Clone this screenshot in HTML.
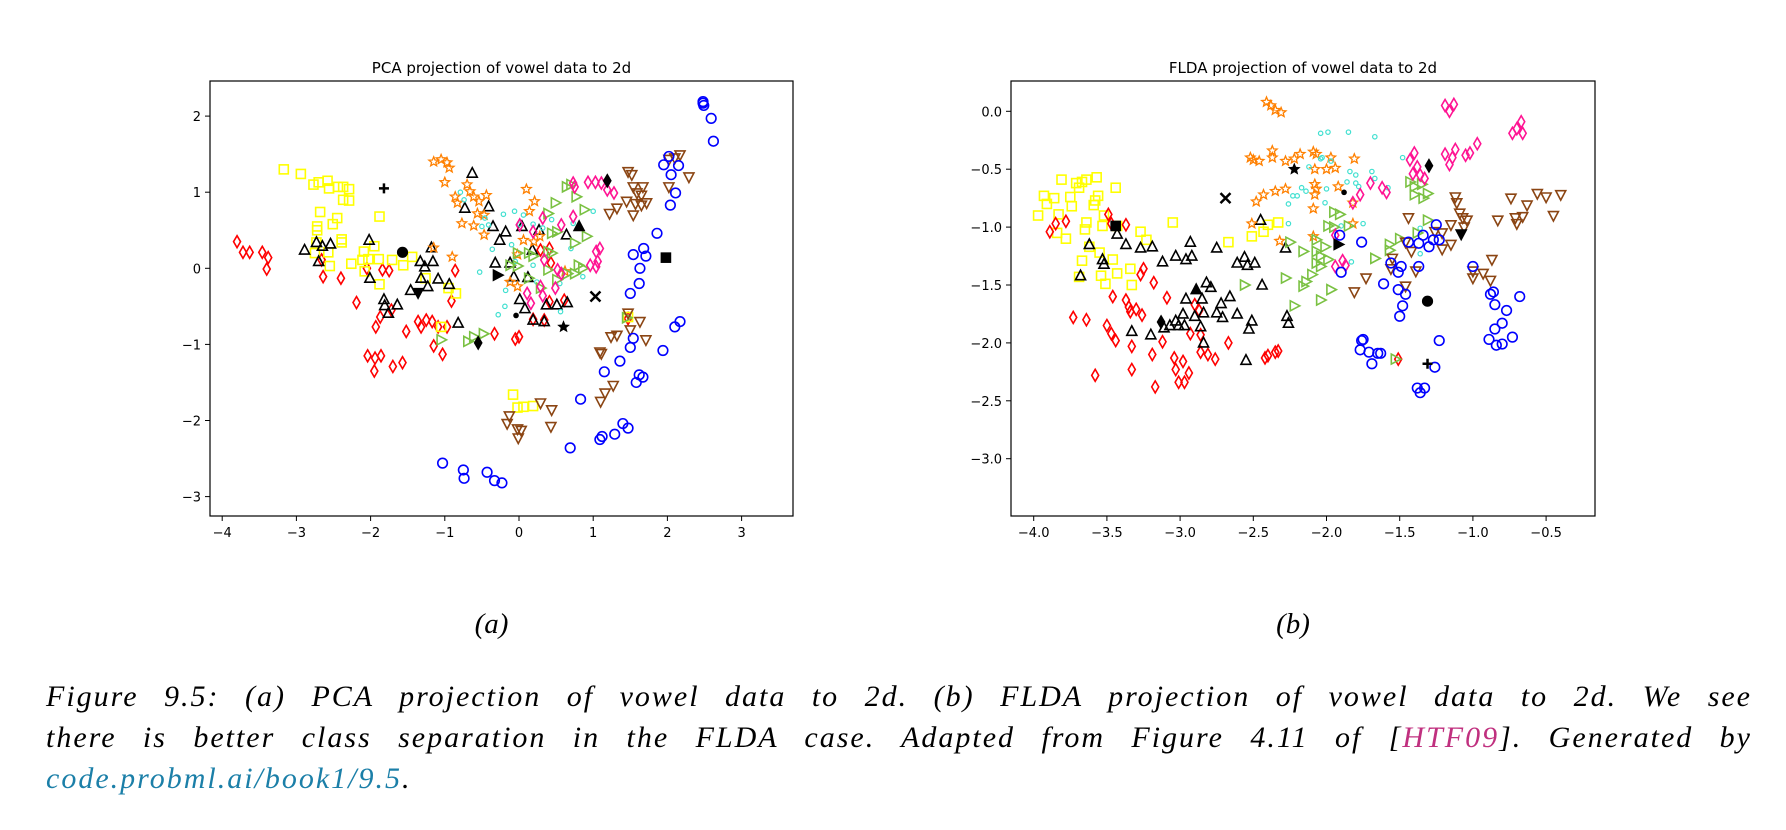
<!DOCTYPE html>
<html><head><meta charset="utf-8"><style>
body{margin:0;background:#fff;width:1786px;height:830px;overflow:hidden;position:relative}
svg{position:absolute;left:0;top:0}
.cap{position:absolute;left:46px;width:1706px;font-family:"Liberation Serif",serif;font-style:italic;font-size:30px;letter-spacing:2px;color:#000;white-space:nowrap}
.j{text-align:justify;text-align-last:justify;white-space:normal}
</style></head><body>
<svg id="fig" width="1786" height="830" xmlns="http://www.w3.org/2000/svg"></svg>
<div class="cap j" style="top:680px">Figure 9.5: (a) PCA projection of vowel data to 2d. (b) FLDA projection of vowel data to 2d. We see</div>
<div class="cap j" style="top:721px">there is better class separation in the FLDA case. Adapted from Figure 4.11 of [<span style="color:#c0307f">HTF09</span>]. Generated by</div>
<div class="cap" style="top:762px"><span style="color:#1b7fa8">code.probml.ai/book1/9.5</span>.</div>
<script>
// ---------- PCA panel data ----------
const pcaRed=[[-3.80,0.35],[-3.72,0.21],[-3.63,0.21],[-3.46,0.21],[-3.38,0.14],[-3.40,-0.01],[-2.66,0.11],[-2.64,-0.11],[-2.40,-0.13],[-2.19,-0.45],[-2.05,0],[-1.84,-0.02],[-1.75,-0.03],[-1.72,-0.55],[-1.87,-0.64],[-1.93,-0.77],[-2.04,-1.15],[-1.94,-1.18],[-1.86,-1.15],[-1.95,-1.35],[-1.70,-1.29],[-1.57,-1.24],[-1.52,-0.83],[-1.36,-0.70],[-1.32,-0.77],[-1.25,-0.68],[-1.17,-0.70],[-1.09,-0.77],[-0.97,-0.77],[-1.15,-1.02],[-1.03,-1.13],[-0.91,-0.43],[-0.86,-0.03],[-0.33,-0.86],[-0.05,-0.93],[0.0,-0.90],[0.19,-0.67],[0.34,-0.68],[0.41,-0.44],[0.61,-0.42],[0.41,0.26],[0.29,0.24],[0.43,0.07],[1.47,-0.66]];
const pcaYellow=[[-3.17,1.30],[-2.94,1.24],[-2.77,1.10],[-2.70,1.13],[-2.58,1.15],[-2.56,1.05],[-2.44,1.07],[-2.37,1.07],[-2.29,1.04],[-2.37,0.90],[-2.29,0.89],[-2.68,0.74],[-2.45,0.66],[-2.51,0.58],[-2.72,0.55],[-2.72,0.50],[-2.39,0.38],[-2.39,0.34],[-2.73,0.34],[-2.75,0.20],[-2.57,0.21],[-2.55,0.03],[-2.26,0.06],[-2.09,0.22],[-1.95,0.29],[-2.11,0.11],[-2.03,0.12],[-1.89,0.12],[-1.71,0.11],[-1.56,0.04],[-1.44,0.15],[-1.88,-0.21],[-2.08,-0.04],[-1.88,0.68],[-1.26,-0.13],[-0.95,-0.26],[-0.85,-0.33],[-1.05,-0.77],[-0.08,-1.66],[-0.02,-1.83],[0.06,-1.82],[0.19,-1.81],[1.47,-0.64]];
const pcaBlackTri=[[-2.89,0.24],[-2.73,0.34],[-2.65,0.29],[-2.54,0.32],[-2.70,0.09],[-2.02,0.37],[-2.01,-0.13],[-1.82,-0.41],[-1.81,-0.49],[-1.64,-0.48],[-1.76,-0.59],[-1.46,-0.29],[-1.33,0.09],[-1.27,0.02],[-1.16,0.09],[-1.32,-0.13],[-1.09,-0.14],[-1.23,-0.24],[-0.94,-0.21],[-1.18,0.27],[-0.82,-0.72],[-0.73,0.79],[-0.63,1.25],[-0.41,0.81],[-0.35,0.55],[-0.26,0.37],[-0.18,0.48],[-0.32,0.07],[-0.12,0.07],[-0.07,-0.11],[0.01,-0.41],[0.08,-0.53],[0.04,0.55],[0.18,0.24],[0.27,0.50],[0.64,0.44],[0.19,-0.68],[0.34,-0.70],[0.37,-0.48],[0.51,-0.48],[0.65,-0.45],[0.12,-0.12]];
const pcaOrange=[[-1.15,1.40],[-1.05,1.43],[-0.97,1.39],[-0.94,1.32],[-1.00,1.13],[-0.70,1.10],[-0.66,1.01],[-0.86,0.94],[-0.83,0.86],[-0.61,0.94],[-0.54,0.88],[-0.44,0.96],[-0.56,0.72],[-0.47,0.70],[-0.77,0.59],[-0.61,0.56],[-0.47,0.44],[0.10,1.04],[0.21,0.88],[0.14,0.75],[-0.90,0.15],[-1.15,0.27],[-0.12,-0.18],[-0.02,-0.24],[0.06,0.37],[0.20,0.35],[0.28,0.42],[0.62,-0.04],[-0.02,0.18]];
const pcaTeal=[[-0.79,1.00],[-0.74,0.90],[-0.46,0.66],[-0.50,0.55],[-0.41,0.57],[-0.21,0.71],[-0.06,0.75],[0.06,0.70],[0.01,0.58],[0.19,0.58],[0.32,0.53],[0.44,0.64],[0.73,0.59],[1.00,0.75],[-0.36,0.25],[-0.10,0.31],[-0.53,-0.05],[-0.18,-0.29],[-0.19,-0.50],[-0.28,-0.61],[0.19,0.04],[0.55,-0.20],[0.56,-0.57],[0.86,-0.11],[0.70,0.26],[-0.05,0.09],[0.24,-0.18]];
const pcaGreen=[[0.64,1.07],[0.70,1.10],[0.77,0.94],[0.49,0.86],[0.39,0.72],[0.44,0.46],[0.51,0.48],[0.91,0.42],[0.88,0.77],[0.75,0.33],[0.39,0.22],[0.44,0.20],[-0.02,0.20],[0.13,0.20],[0.19,0.16],[-0.12,0.04],[-0.02,0.03],[0.39,-0.02],[0.65,-0.07],[0.80,0.04],[0.86,0.0],[0.13,-0.13],[0.29,-0.26],[0.51,-0.15],[0.75,-0.07],[-1.05,-0.94],[-0.69,-0.96],[-0.61,-0.90],[-0.48,-0.86],[1.45,-0.65]];
const pcaPink=[[0.73,1.12],[0.75,1.07],[0.93,1.13],[1.03,1.13],[1.11,1.12],[1.19,1.03],[1.28,0.99],[0.73,0.68],[0.57,0.57],[0.32,0.66],[0.19,0.48],[0.01,0.57],[1.04,0.22],[1.09,0.26],[1.06,0.09],[0.96,0.04],[1.04,0.02],[0.52,-0.02],[0.57,-0.07],[0.49,-0.26],[0.29,-0.24],[0.11,-0.33],[0.16,-0.46],[0.32,-0.36],[0.34,0.11]];
const pcaBrown=[[1.47,1.27],[1.52,1.23],[2.02,1.43],[2.10,1.45],[2.17,1.49],[2.02,1.07],[2.29,1.20],[1.54,1.07],[1.67,1.07],[1.59,0.99],[1.65,0.96],[1.45,0.88],[1.32,0.79],[1.22,0.72],[1.54,0.70],[1.57,0.85],[1.65,0.83],[1.72,0.86],[1.47,-0.59],[1.63,-0.70],[1.50,-0.81],[1.24,-0.90],[1.32,-0.88],[1.71,-0.94],[1.09,-1.10],[1.11,-1.12],[1.27,-1.54],[1.16,-1.64],[1.10,-1.75],[0.29,-1.77],[0.44,-1.86],[0.43,-2.08],[-0.13,-1.94],[-0.16,-2.04],[-0.02,-2.11],[0.03,-2.13],[-0.01,-2.23]];
const pcaBlue=[[2.48,2.19],[2.48,2.17],[2.49,2.14],[2.59,1.97],[2.62,1.67],[1.95,1.36],[2.02,1.47],[2.15,1.35],[2.05,1.23],[2.11,0.99],[2.04,0.83],[1.86,0.46],[1.68,0.26],[1.54,0.18],[1.71,0.16],[1.63,0.0],[1.62,-0.20],[1.50,-0.33],[2.17,-0.70],[2.10,-0.77],[1.54,-0.92],[1.50,-1.04],[1.94,-1.08],[1.36,-1.22],[1.15,-1.36],[1.62,-1.40],[1.67,-1.43],[1.58,-1.50],[0.83,-1.72],[0.69,-2.36],[1.40,-2.04],[1.47,-2.10],[1.29,-2.18],[1.12,-2.21],[1.09,-2.25],[-1.03,-2.56],[-0.75,-2.65],[-0.74,-2.76],[-0.43,-2.68],[-0.33,-2.79],[-0.23,-2.82]];
const pcaCentX=[-1.82,-1.57,0.81,1.19,1.98,1.03,0.60,-0.04,-0.29,-1.36,-0.55];
const pcaCentY=[1.05,0.21,0.55,1.15,0.14,-0.37,-0.77,-0.62,-0.09,-0.32,-0.98];
const pcaXTicks=[-4,-3,-2,-1,0,1,2,3];
const pcaYTicks=[2,1,0,-1,-2,-3];
// ---------- FLDA panel data ----------
const ldaYellow=[[-3.97,-0.90],[-3.93,-0.73],[-3.91,-0.80],[-3.86,-0.75],[-3.81,-0.59],[-3.83,-0.89],[-3.75,-0.74],[-3.74,-0.82],[-3.71,-0.62],[-3.67,-0.61],[-3.69,-0.66],[-3.64,-0.59],[-3.57,-0.57],[-3.56,-0.73],[-3.58,-0.77],[-3.59,-0.81],[-3.44,-0.66],[-3.64,-0.96],[-3.65,-1.02],[-3.84,-1.05],[-3.78,-1.10],[-3.52,-0.90],[-3.53,-0.99],[-3.62,-1.17],[-3.55,-1.22],[-3.67,-1.29],[-3.46,-1.28],[-3.43,-1.40],[-3.54,-1.42],[-3.51,-1.49],[-3.69,-1.43],[-3.34,-1.36],[-3.33,-1.50],[-3.27,-1.04],[-3.23,-1.11],[-3.05,-0.96],[-2.67,-1.13],[-2.51,-1.08],[-2.43,-1.04],[-2.40,-0.98],[-2.33,-0.96],[-3.43,-0.99]];
const ldaRed=[[-3.89,-1.04],[-3.85,-0.97],[-3.78,-0.95],[-3.49,-0.89],[-3.47,-0.97],[-3.37,-0.98],[-3.27,-1.41],[-3.25,-1.36],[-3.18,-1.48],[-3.09,-1.61],[-3.46,-1.60],[-3.37,-1.63],[-3.35,-1.69],[-3.34,-1.73],[-3.30,-1.71],[-3.26,-1.76],[-3.73,-1.78],[-3.64,-1.80],[-3.50,-1.85],[-3.47,-1.92],[-3.44,-1.98],[-3.33,-2.03],[-3.12,-1.99],[-3.19,-2.10],[-3.33,-2.23],[-3.58,-2.28],[-3.17,-2.38],[-3.04,-2.13],[-3.03,-2.23],[-2.98,-2.16],[-3.01,-2.34],[-2.97,-2.34],[-2.94,-2.26],[-2.93,-1.92],[-2.86,-1.93],[-2.86,-2.08],[-2.81,-2.10],[-2.76,-2.14],[-2.67,-2.00],[-2.90,-1.67],[-2.87,-1.72],[-2.42,-2.13],[-2.40,-2.11],[-2.35,-2.08],[-2.33,-2.07],[-1.51,-2.14]];
const ldaBlackTri=[[-3.62,-1.15],[-3.53,-1.28],[-3.52,-1.32],[-3.43,-1.06],[-3.68,-1.42],[-3.37,-1.15],[-3.27,-1.18],[-3.19,-1.17],[-3.12,-1.30],[-3.03,-1.25],[-2.96,-1.28],[-2.92,-1.25],[-2.93,-1.13],[-2.75,-1.18],[-2.56,-1.26],[-2.61,-1.31],[-2.54,-1.33],[-2.49,-1.31],[-2.45,-0.94],[-2.44,-1.50],[-2.28,-1.18],[-2.82,-1.48],[-2.79,-1.52],[-2.96,-1.62],[-2.85,-1.62],[-2.72,-1.66],[-2.66,-1.60],[-2.84,-1.74],[-2.75,-1.74],[-2.71,-1.78],[-2.61,-1.75],[-2.51,-1.81],[-2.98,-1.75],[-2.90,-1.77],[-3.03,-1.81],[-3.01,-1.85],[-2.97,-1.85],[-3.07,-1.85],[-3.11,-1.87],[-2.86,-1.86],[-3.33,-1.90],[-3.20,-1.93],[-2.84,-2.00],[-2.53,-1.88],[-2.55,-2.15],[-2.27,-1.77],[-2.26,-1.83]];
const ldaOrange=[[-2.41,0.08],[-2.38,0.05],[-2.35,0.01],[-2.31,-0.01],[-2.52,-0.40],[-2.50,-0.42],[-2.46,-0.43],[-2.37,-0.34],[-2.37,-0.40],[-2.28,-0.43],[-2.22,-0.41],[-2.18,-0.37],[-2.09,-0.35],[-2.07,-0.37],[-1.97,-0.40],[-2.08,-0.50],[-2.00,-0.50],[-1.94,-0.49],[-1.81,-0.41],[-2.48,-0.78],[-2.43,-0.72],[-2.35,-0.69],[-2.28,-0.67],[-2.08,-0.63],[-2.07,-0.67],[-2.08,-0.72],[-2.09,-0.84],[-1.92,-0.65],[-1.82,-0.79],[-2.51,-0.97],[-2.32,-1.12],[-1.82,-0.97],[-2.09,-1.08]];
const ldaTeal=[[-2.04,-0.19],[-1.99,-0.18],[-1.85,-0.18],[-1.67,-0.22],[-2.04,-0.41],[-2.03,-0.40],[-1.97,-0.43],[-2.12,-0.48],[-1.84,-0.52],[-1.80,-0.55],[-1.69,-0.52],[-1.67,-0.58],[-1.86,-0.61],[-1.80,-0.62],[-1.78,-0.65],[-1.58,-0.66],[-2.17,-0.66],[-2.14,-0.69],[-2.00,-0.67],[-2.23,-0.73],[-2.20,-0.73],[-2.26,-0.80],[-2.01,-0.79],[-1.90,-0.99],[-1.75,-0.97],[-2.26,-0.97],[-1.48,-0.40],[-1.36,-1.01],[-1.36,-1.23],[-1.83,-1.30]];
const ldaGreen=[[-1.43,-0.61],[-1.40,-0.65],[-1.35,-0.63],[-1.31,-0.71],[-1.40,-0.72],[-1.34,-0.75],[-1.31,-0.94],[-1.38,-1.05],[-1.50,-1.10],[-1.57,-1.15],[-1.57,-1.20],[-1.67,-1.27],[-1.95,-0.87],[-1.91,-0.89],[-1.99,-0.99],[-1.95,-1.00],[-1.85,-0.99],[-2.25,-1.13],[-2.16,-1.21],[-2.07,-1.11],[-2.07,-1.21],[-2.01,-1.17],[-2.04,-1.25],[-2.07,-1.31],[-2.04,-1.34],[-1.99,-1.28],[-2.10,-1.41],[-2.14,-1.47],[-2.16,-1.51],[-2.28,-1.44],[-2.56,-1.50],[-1.97,-1.54],[-2.04,-1.63],[-2.22,-1.68],[-1.53,-2.14]];
const ldaPink=[[-1.19,0.05],[-1.16,0.0],[-1.13,0.06],[-0.73,-0.19],[-0.67,-0.09],[-0.66,-0.19],[-0.70,-0.15],[-1.02,-0.36],[-0.97,-0.28],[-1.05,-0.38],[-1.19,-0.37],[-1.14,-0.40],[-1.12,-0.33],[-1.16,-0.46],[-1.40,-0.36],[-1.43,-0.42],[-1.38,-0.48],[-1.41,-0.54],[-1.36,-0.55],[-1.33,-0.58],[-1.70,-0.62],[-1.62,-0.66],[-1.59,-0.70],[-1.77,-0.72],[-1.82,-0.79],[-1.94,-1.07],[-1.94,-1.34],[-1.89,-1.29],[-1.87,-1.33]];
const ldaBrown=[[-1.44,-0.92],[-1.12,-0.74],[-1.11,-0.79],[-1.09,-0.88],[-1.07,-0.92],[-1.04,-0.94],[-1.06,-1.00],[-1.15,-0.98],[-1.26,-1.04],[-1.21,-1.05],[-1.15,-1.15],[-1.21,-1.19],[-1.42,-1.21],[-1.46,-1.13],[-0.74,-0.75],[-0.63,-0.81],[-0.56,-0.71],[-0.50,-0.74],[-0.40,-0.72],[-0.83,-0.94],[-0.71,-0.92],[-0.70,-0.97],[-0.66,-0.91],[-0.45,-0.90],[-0.87,-1.28],[-1.00,-1.38],[-1.00,-1.44],[-0.93,-1.40],[-0.88,-1.46],[-1.55,-1.27],[-1.56,-1.36],[-1.39,-1.38],[-1.73,-1.44],[-1.81,-1.56],[-1.46,-1.51]];
const ldaBlue=[[-1.25,-0.98],[-1.34,-1.07],[-1.27,-1.11],[-1.23,-1.11],[-1.37,-1.14],[-1.44,-1.13],[-1.30,-1.17],[-1.76,-1.13],[-1.91,-1.07],[-1.90,-1.39],[-1.56,-1.31],[-1.49,-1.34],[-1.51,-1.39],[-1.37,-1.34],[-1.61,-1.49],[-1.51,-1.54],[-1.46,-1.58],[-1.48,-1.68],[-1.50,-1.77],[-1.76,-1.98],[-1.75,-1.97],[-1.77,-2.06],[-1.71,-2.08],[-1.65,-2.09],[-1.63,-2.09],[-1.69,-2.18],[-1.23,-1.98],[-1.26,-2.21],[-1.38,-2.39],[-1.33,-2.39],[-1.36,-2.43],[-1.00,-1.34],[-0.88,-1.58],[-0.86,-1.56],[-0.85,-1.67],[-0.77,-1.72],[-0.68,-1.60],[-0.80,-1.83],[-0.85,-1.88],[-0.89,-1.97],[-0.84,-2.02],[-0.80,-2.01],[-0.73,-1.95]];
const ldaCentX=[-2.69,-2.22,-1.88,-1.30,-2.89,-3.13,-1.92,-1.08,-1.31,-1.31,-3.44];
const ldaCentY=[-0.75,-0.50,-0.70,-0.47,-1.54,-1.82,-1.15,-1.06,-1.64,-2.18,-0.99];
const ldaXTicks=[-4.0,-3.5,-3.0,-2.5,-2.0,-1.5,-1.0,-0.5];
const ldaYTicks=[0.0,-0.5,-1.0,-1.5,-2.0,-2.5,-3.0];

const NS="http://www.w3.org/2000/svg";
const svg=document.getElementById('fig');
function el(tag,attrs,parent){const e=document.createElementNS(NS,tag);for(const k in attrs)e.setAttribute(k,attrs[k]);(parent||svg).appendChild(e);return e;}
function marker(g,shape,cx,cy,color,filled){
  const f=filled?color:'none';const sw=1.6;let e;
  if(shape==='o'){e=el('circle',{cx:cx,cy:cy,r:4.8,fill:f,stroke:color,'stroke-width':sw},g);}
  else if(shape==='.'){e=el('circle',{cx:cx,cy:cy,r:2.2,fill:f,stroke:color,'stroke-width':1.2},g);}
  else if(shape==='s'){e=el('rect',{x:cx-4.5,y:cy-4.5,width:9,height:9,fill:f,stroke:color,'stroke-width':sw},g);}
  else if(shape==='d'){e=el('polygon',{points:`${cx},${cy-6} ${cx+3.5},${cy} ${cx},${cy+6} ${cx-3.5},${cy}`,fill:f,stroke:color,'stroke-width':sw},g);}
  else if(shape==='^'){e=el('polygon',{points:`${cx},${cy-5.5} ${cx+5},${cy+4} ${cx-5},${cy+4}`,fill:f,stroke:color,'stroke-width':sw},g);}
  else if(shape==='v'){e=el('polygon',{points:`${cx},${cy+5.5} ${cx+5},${cy-4} ${cx-5},${cy-4}`,fill:f,stroke:color,'stroke-width':sw},g);}
  else if(shape==='>'){e=el('polygon',{points:`${cx+5.5},${cy} ${cx-4},${cy+5} ${cx-4},${cy-5}`,fill:f,stroke:color,'stroke-width':sw},g);}
  else if(shape==='*'){let p=[];for(let i=0;i<10;i++){const r=i%2?2.2:5;const a=-Math.PI/2+i*Math.PI/5;p.push((cx+r*Math.cos(a)).toFixed(1)+','+(cy+r*Math.sin(a)).toFixed(1));}
    e=el('polygon',{points:p.join(' '),fill:f,stroke:color,'stroke-width':1.3},g);}
  else if(shape==='+'){e=el('path',{d:`M${cx-5},${cy}H${cx+5}M${cx},${cy-5}V${cy+5}`,stroke:color,'stroke-width':2.5},g);}
  else if(shape==='x'){e=el('path',{d:`M${cx-5},${cy-5}L${cx+5},${cy+5}M${cx+5},${cy-5}L${cx-5},${cy+5}`,stroke:color,'stroke-width':2.5},g);}
  return e;
}
function panel(cfg){
  const {L,R,T,B,x0,xs,y0,ys}=cfg;
  const X=v=>x0+(v-cfg.xref)*xs, Y=v=>y0-(v-cfg.yref)*ys;
  const g=el('g',{});
  
  
  const title=el('text',{x:(L+R)/2,y:T-8,'text-anchor':'middle','font-family':'DejaVu Sans, Liberation Sans, sans-serif','font-size':15},g);
  title.textContent=cfg.title;
  
  
  const clip=el('g',{},g);
  cfg.series.forEach(s=>{
    const sg=el('g',{},clip);
    
    
    s.data.forEach(p=>{const m=marker(sg,s.shape,X(p[0]),Y(p[1]),s.color,false);
      
      });
  });
  const cg=el('g',{},clip);
  
  
  const shapes=cfg.centShapes;
  cfg.cx.forEach((v,i)=>{const m=marker(cg,shapes[i],X(v),Y(cfg.cy[i]),'#000',true);
    
    });
  const frame=el('rect',{x:L,y:T,width:R-L,height:B-T,fill:'none',stroke:'#000','stroke-width':1.2},g);
  
  
  cfg.xt.forEach(t=>{const x=X(t);el('line',{x1:x,x2:x,y1:B,y2:B+5,stroke:'#000','stroke-width':1},g);
    const tx=el('text',{x:x,y:B+21,'text-anchor':'middle','font-family':'DejaVu Sans, Liberation Sans, sans-serif','font-size':13},g);
    tx.textContent=(t<0?'\u2212':'')+Math.abs(t).toFixed(cfg.dec);
    
    });
  cfg.yt.forEach(t=>{const y=Y(t);el('line',{x1:L-5,x2:L,y1:y,y2:y,stroke:'#000','stroke-width':1},g);
    const tx=el('text',{x:L-9,y:y+5,'text-anchor':'end','font-family':'DejaVu Sans, Liberation Sans, sans-serif','font-size':13},g);
    tx.textContent=(t<0?'\u2212':'')+Math.abs(t).toFixed(cfg.dec);
    
    });
  const sub=el('text',{x:(L+R)/2-10,y:633,'text-anchor':'middle','font-family':'Liberation Serif, serif','font-style':'italic','font-size':29},g);
  sub.textContent=cfg.sub;
  
  
}
const C={red:'#ff0000',yellow:'#ffff00',black:'#000000',orange:'#ff8000',teal:'#40e0d0',green:'#7ac142',pink:'#ff1493',brown:'#8b4513',blue:'#0000ff'};
panel({name:'pca-panel',title:'PCA projection of vowel data to 2d',sub:'(a)',L:210,R:793,T:81,B:516,x0:519,xref:0,xs:74.2,y0:268.3,yref:0,ys:76.1,dec:0,xt:pcaXTicks,yt:pcaYTicks,
  series:[{name:'pca-class-red',data:pcaRed,shape:'d',color:C.red},{name:'pca-class-yellow',data:pcaYellow,shape:'s',color:C.yellow},{name:'pca-class-black',data:pcaBlackTri,shape:'^',color:C.black},{name:'pca-class-orange',data:pcaOrange,shape:'*',color:C.orange},{name:'pca-class-teal',data:pcaTeal,shape:'.',color:C.teal},{name:'pca-class-green',data:pcaGreen,shape:'>',color:C.green},{name:'pca-class-pink',data:pcaPink,shape:'d',color:C.pink},{name:'pca-class-brown',data:pcaBrown,shape:'v',color:C.brown},{name:'pca-class-blue',data:pcaBlue,shape:'o',color:C.blue}],
  cx:pcaCentX,cy:pcaCentY,centShapes:['+','o','^','d','s','x','*','.','>','v','d']});
panel({name:'flda-panel',title:'FLDA projection of vowel data to 2d',sub:'(b)',L:1011,R:1595,T:81,B:516,x0:1033.7,xref:-4,xs:146.4,y0:111.3,yref:0,ys:115.8,dec:1,xt:ldaXTicks,yt:ldaYTicks,
  series:[{name:'flda-class-yellow',data:ldaYellow,shape:'s',color:C.yellow},{name:'flda-class-red',data:ldaRed,shape:'d',color:C.red},{name:'flda-class-black',data:ldaBlackTri,shape:'^',color:C.black},{name:'flda-class-orange',data:ldaOrange,shape:'*',color:C.orange},{name:'flda-class-teal',data:ldaTeal,shape:'.',color:C.teal},{name:'flda-class-green',data:ldaGreen,shape:'>',color:C.green},{name:'flda-class-pink',data:ldaPink,shape:'d',color:C.pink},{name:'flda-class-brown',data:ldaBrown,shape:'v',color:C.brown},{name:'flda-class-blue',data:ldaBlue,shape:'o',color:C.blue}],
  cx:ldaCentX,cy:ldaCentY,centShapes:['x','*','.','d','^','d','>','v','o','+','s']});
</script>
</body></html>
